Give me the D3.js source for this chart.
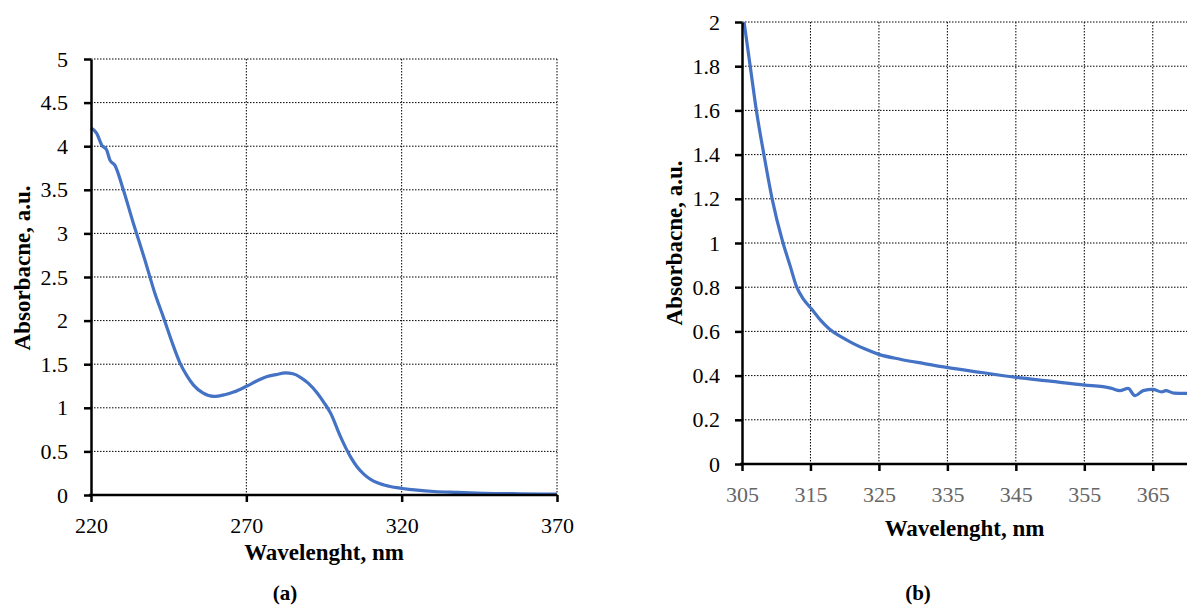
<!DOCTYPE html>
<html>
<head>
<meta charset="utf-8">
<script src="https://cdn.jsdelivr.net/npm/d3@7"></script>
<style>
  body { margin: 0; background: #fff; }
  svg { display: block; font-family: "Liberation Serif", "DejaVu Serif", serif; }
  .grid line { stroke: #000; stroke-width: 1; stroke-dasharray: 1.5,1.5; }
  .axis path, .axis line { stroke: #000; stroke-width: 2.5; }
  .curve { fill: none; stroke: #4472C4; stroke-width: 3.2; stroke-linejoin: round; }
  .title { font-weight: bold; font-size: 23px; }
  .tag { font-weight: bold; font-size: 21px; }
</style>
</head>
<body>
<script>
// panel (a): full UV spectrum
var waveA = [220, 221.8, 223.5, 225, 226.1, 227.7, 230.4, 233.6, 237.4, 240.5, 243.3, 246, 248.7, 251, 253, 256, 259.5, 263, 265.9, 270.2, 273.5, 276.7, 279.5, 282.6, 285, 287.4, 290, 292.8, 295, 297.1, 300.3, 303.5, 305.5, 307.8, 310, 312.2, 316, 320.2, 325, 330.4, 338, 346.5, 358, 370];
var absA  = [4.21, 4.15, 4.01, 3.96, 3.84, 3.78, 3.50, 3.12, 2.69, 2.32, 2.04, 1.76, 1.51, 1.36, 1.26, 1.17, 1.13, 1.15, 1.18, 1.25, 1.31, 1.36, 1.38, 1.40, 1.39, 1.35, 1.28, 1.17, 1.06, 0.94, 0.67, 0.44, 0.33, 0.24, 0.18, 0.14, 0.10, 0.075, 0.055, 0.04, 0.03, 0.02, 0.014, 0.01];
var xTicksA = [220, 270, 320, 370];
var yTicksA = [0, 0.5, 1, 1.5, 2, 2.5, 3, 3.5, 4, 4.5, 5];

// panel (b): zoom on the tail
var waveB = [305.3, 306.2, 307.1, 308.2, 309.4, 310.9, 312, 313, 314, 315.2, 316.5, 317.8, 319.5, 321.2, 323, 325, 328.1, 331.5, 335.1, 340, 345.1, 350, 355.1, 357.7, 359, 360.2, 361.4, 362.4, 363.6, 365, 366.3, 366.9, 368.1, 370];
var absB  = [2.0, 1.80, 1.60, 1.40, 1.20, 1.01, 0.90, 0.80, 0.745, 0.70, 0.65, 0.61, 0.575, 0.546, 0.52, 0.496, 0.474, 0.455, 0.436, 0.414, 0.392, 0.375, 0.357, 0.35, 0.342, 0.332, 0.342, 0.309, 0.332, 0.338, 0.326, 0.332, 0.321, 0.32];
var xTicksB = [305, 315, 325, 335, 345, 355, 365];
var yTicksB = [0, 0.2, 0.4, 0.6, 0.8, 1, 1.2, 1.4, 1.6, 1.8, 2];

var FONT = "'Liberation Serif', 'DejaVu Serif', serif";

var svg = d3.select("body").append("svg")
    .attr("width", 1192)
    .attr("height", 608);

function panel(opt) {
  var x = d3.scaleLinear().domain(opt.xDomain).range([opt.left, opt.right]);
  var y = d3.scaleLinear().domain(opt.yDomain).range([opt.bottom, opt.top]);
  var g = svg.append("g");

  // dotted grid
  g.append("g").attr("class", "grid")
    .selectAll("line").data(opt.yTicks.filter(function(d) { return d > 0; }))
    .enter().append("line")
      .attr("x1", opt.left).attr("x2", opt.right)
      .attr("y1", function(d) { return y(d); })
      .attr("y2", function(d) { return y(d); });
  g.append("g").attr("class", "grid")
    .selectAll("line").data(opt.xGrid)
    .enter().append("line")
      .attr("x1", function(d) { return x(d); })
      .attr("x2", function(d) { return x(d); })
      .attr("y1", opt.top).attr("y2", opt.bottom);

  // the spectrum
  var line = d3.line()
    .x(function(d, i) { return x(opt.wave[i]); })
    .y(function(d) { return y(d); })
    .curve(d3.curveMonotoneX);
  g.append("path").datum(opt.abs).attr("class", "curve").attr("d", line);

  // axes
  var xa = g.append("g").attr("class", "axis")
    .attr("transform", "translate(0," + opt.bottom + ")")
    .call(d3.axisBottom(x).tickValues(opt.xTicks).tickSize(7).tickSizeOuter(0).tickPadding(15))
    .attr("font-family", FONT).attr("font-size", 22);
  xa.select(".domain").attr("d", "M" + (opt.left - 2) + ",0H" + opt.right);
  xa.selectAll("text").attr("fill", opt.xColor);

  g.append("g").attr("class", "axis")
    .attr("transform", "translate(" + opt.left + ",0)")
    .call(d3.axisLeft(y).tickValues(opt.yTicks).tickSize(7).tickSizeOuter(0).tickPadding(opt.yPad)
      .tickFormat(d3.format("")))
    .attr("font-family", FONT).attr("font-size", 22);

  // titles
  svg.append("text").attr("class", "title")
    .attr("x", (opt.left + opt.right) / 2).attr("y", opt.xTitleY)
    .attr("text-anchor", "middle").text("Wavelenght, nm");
  svg.append("text").attr("class", "title")
    .attr("transform", "translate(" + opt.yTitleX + "," + opt.yTitleC + ") rotate(-90)")
    .attr("text-anchor", "middle").text("Absorbacne, a.u.");
  svg.append("text").attr("class", "tag")
    .attr("x", opt.tagX).attr("y", 600)
    .attr("text-anchor", "middle").text(opt.tag);
}

panel({
  wave: waveA, abs: absA, xTicks: xTicksA, yTicks: yTicksA, xGrid: [270, 320, 370],
  xDomain: [220, 370], yDomain: [0, 5],
  left: 91, right: 557, top: 59, bottom: 495, yPad: 16, xColor: "#000",
  xTitleY: 560, yTitleX: 30, yTitleC: 268, tagX: 285, tag: "(a)"
});

panel({
  wave: waveB, abs: absB, xTicks: xTicksB, yTicks: yTicksB, xGrid: [315, 325, 335, 345, 355, 365],
  xDomain: [305, 370], yDomain: [0, 2],
  left: 742, right: 1187, top: 22, bottom: 464, yPad: 15, xColor: "#666",
  xTitleY: 536, yTitleX: 682, yTitleC: 243, tagX: 918, tag: "(b)"
});
</script>
</body>
</html>
